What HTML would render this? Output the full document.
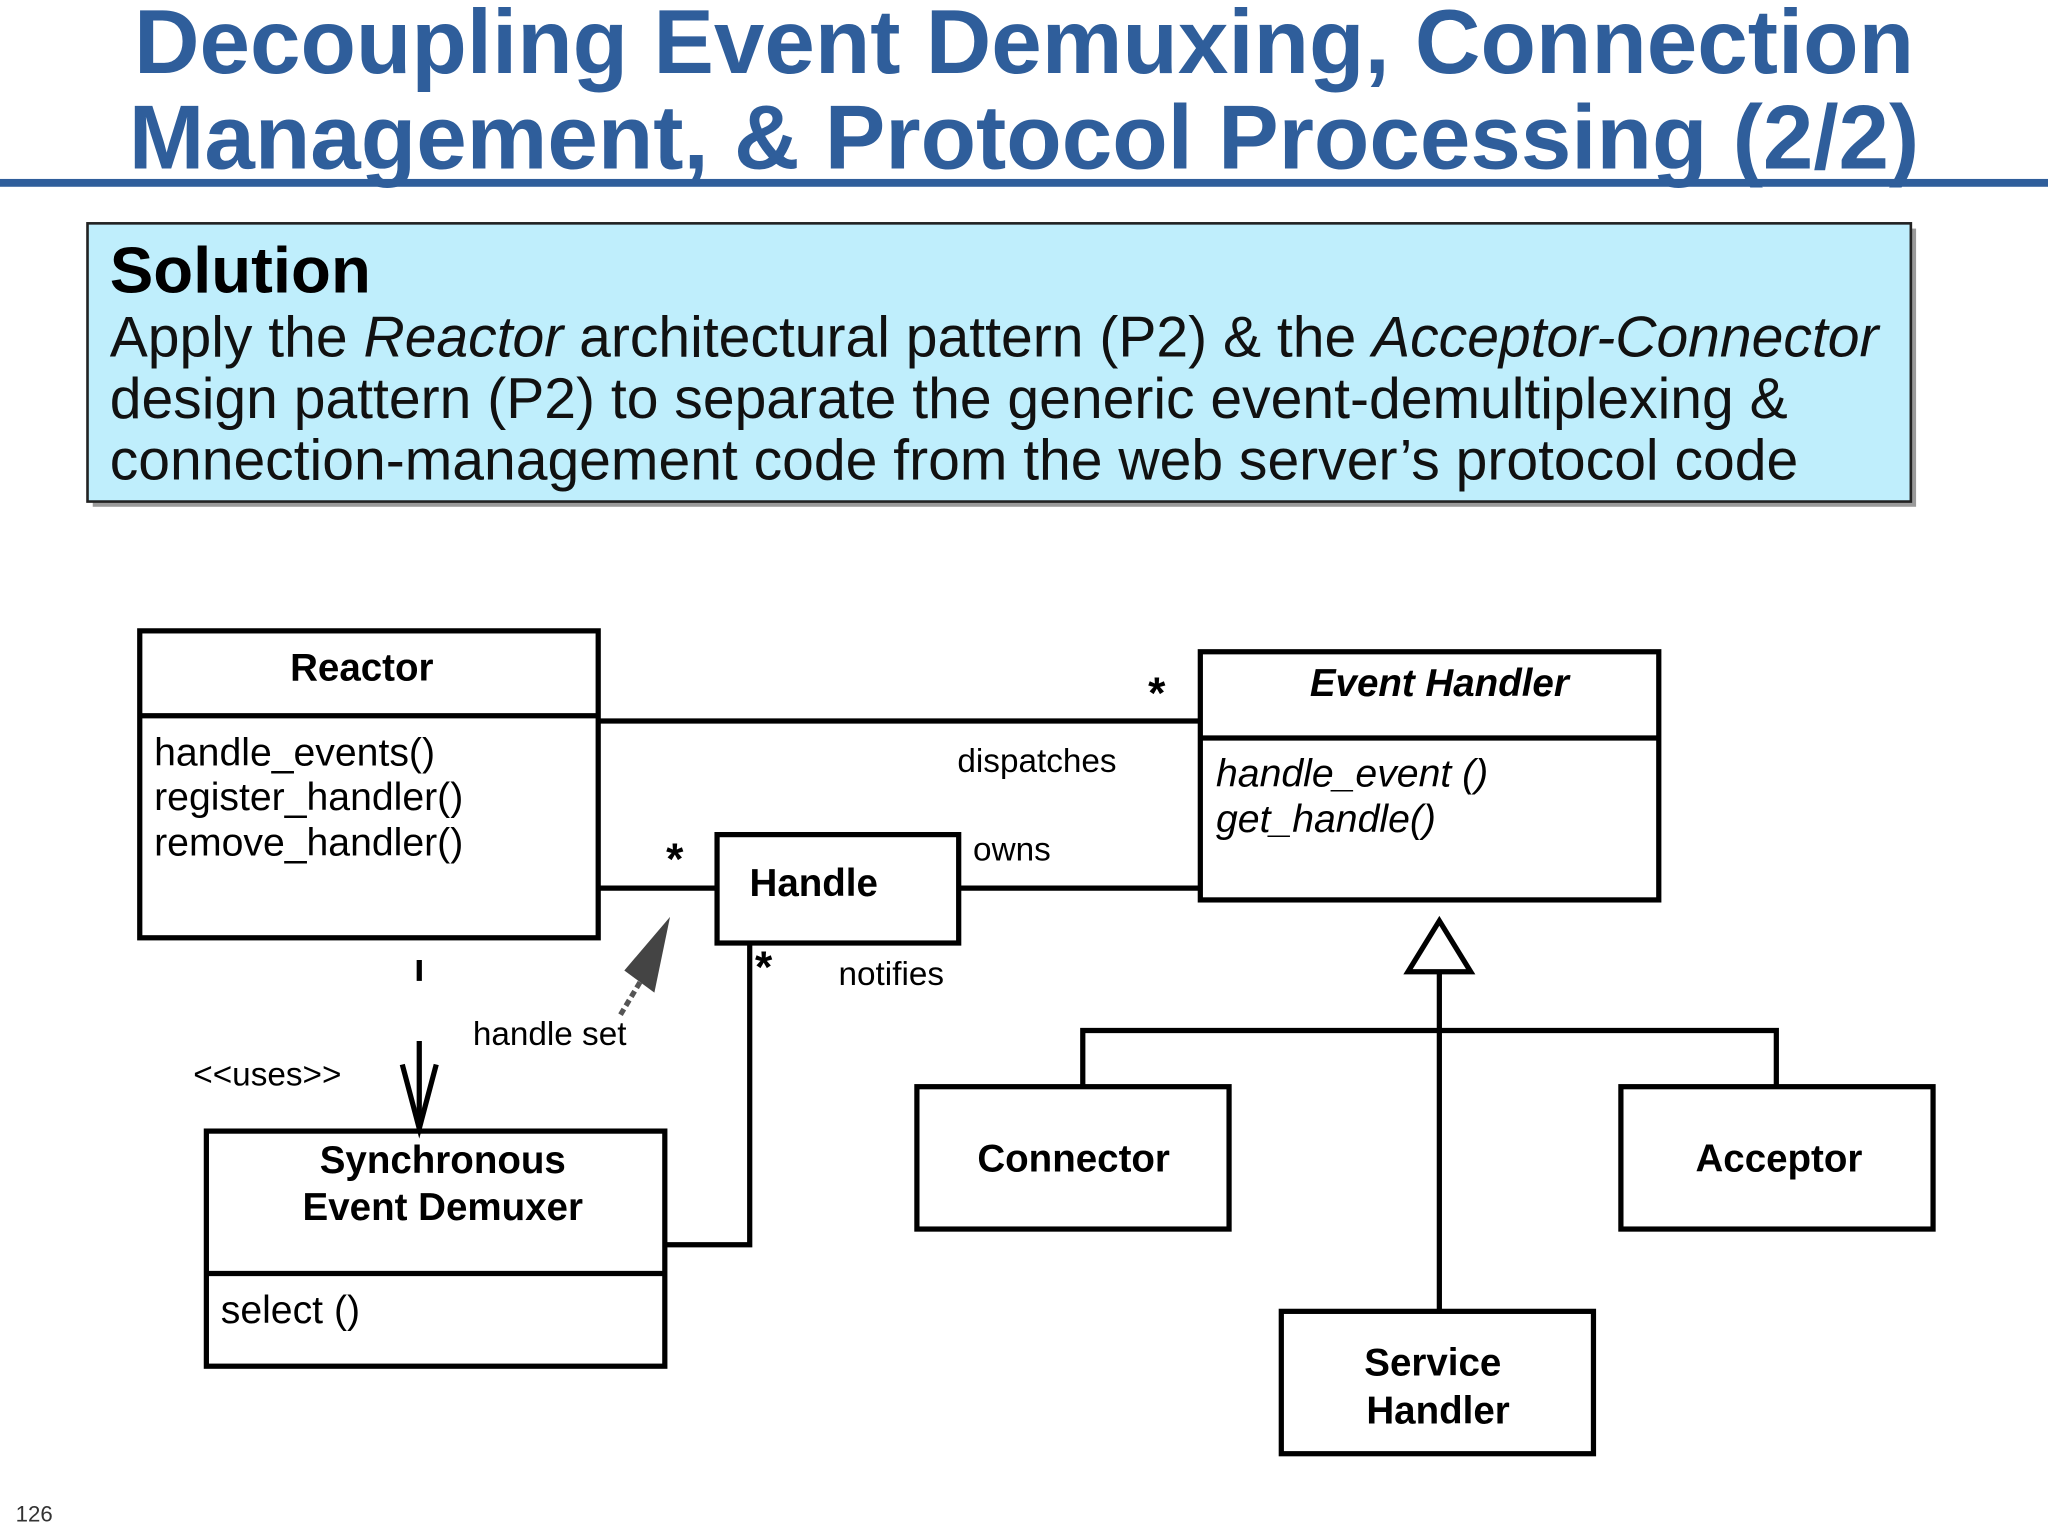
<!DOCTYPE html>
<html><head><meta charset="utf-8"><style>
html,body{margin:0;padding:0;background:#fff;}
svg{display:block;}
text{font-family:"Liberation Sans",Arial,sans-serif;}
</style></head><body>
<svg width="2048" height="1536" viewBox="0 0 1568 1176" xmlns="http://www.w3.org/2000/svg">
<rect width="1568" height="1176" fill="#fff"/>
<text x="784" y="56" text-anchor="middle" font-size="69.5" font-weight="bold" fill="#2f5e9b">Decoupling Event Demuxing, Connection</text>
<text x="784" y="129" text-anchor="middle" font-size="69.5" font-weight="bold" fill="#2f5e9b">Management, &amp; Protocol Processing (2/2)</text>
<rect x="0" y="137" width="1568" height="6" fill="#2f5e9b"/>
<rect x="71" y="175" width="1396" height="213" fill="#9a9a9a"/>
<rect x="67" y="171" width="1396" height="213" fill="#bfeefc" stroke="#222" stroke-width="2"/>
<text x="84" y="224" font-size="50" font-weight="bold" fill="#000">Solution</text>
<text x="84" y="273" font-size="43.7" fill="#111">Apply the <tspan font-style="italic">Reactor</tspan> architectural pattern (P2) &amp; the <tspan font-style="italic">Acceptor-Connector</tspan></text>
<text x="84" y="320" font-size="43.7" fill="#111">design pattern (P2) to separate the generic event-demultiplexing &amp;</text>
<text x="84" y="367" font-size="43.7" fill="#111">connection-management code from the web server’s protocol code</text>

<g fill="none" stroke="#000" stroke-width="4">
<rect x="107" y="483" width="351" height="235"/><line x1="107" y1="548" x2="458" y2="548"/>
<rect x="919" y="499" width="351" height="190"/><line x1="919" y1="565" x2="1270" y2="565"/>
<rect x="549" y="639" width="185" height="83"/>
<rect x="158" y="866" width="351" height="180"/><line x1="158" y1="975" x2="509" y2="975"/>
<rect x="702" y="832" width="239" height="109"/>
<rect x="1241" y="832" width="239" height="109"/>
<rect x="981" y="1004" width="239" height="109"/>
<line x1="458" y1="552" x2="919" y2="552"/>
<line x1="458" y1="680" x2="549" y2="680"/>
<line x1="734" y1="680" x2="919" y2="680"/>
<polyline points="574,722 574,953 509,953"/>
<line x1="321" y1="735" x2="321" y2="751"/>
<line x1="321" y1="797" x2="321" y2="864"/>
<polyline points="308,815 321,864 334,815"/>
<polygon points="1102,705 1078,744 1126,744"/>
<line x1="1102" y1="744" x2="1102" y2="1004"/>
<polyline points="829,832 829,789 1360,789 1360,832"/>
</g>
<polygon points="513,702 478,743 501,760" fill="#444"/>
<line x1="490" y1="752" x2="475" y2="777" stroke="#555" stroke-width="4" stroke-dasharray="5,3"/>

<g font-size="29.5" fill="#000" text-anchor="middle" font-weight="bold">
<text x="277" y="521">Reactor</text>
<text x="1102" y="533" font-style="italic">Event Handler</text>
<text x="623" y="686">Handle</text>
<text x="339" y="898">Synchronous</text>
<text x="339" y="934">Event Demuxer</text>
<text x="822" y="897">Connector</text>
<text x="1362" y="897">Acceptor</text>
<text x="1097" y="1053">Service</text>
<text x="1101" y="1090">Handler</text>
</g>
<g font-size="30" fill="#000">
<text x="118" y="586">handle_events()</text>
<text x="118" y="620">register_handler()</text>
<text x="118" y="655">remove_handler()</text>
<text x="931" y="602" font-style="italic">handle_event ()</text>
<text x="931" y="637" font-style="italic">get_handle()</text>
<text x="169" y="1013">select ()</text>
</g>
<g font-size="25.5" fill="#000">
<text x="733" y="591">dispatches</text>
<text x="745" y="659">owns</text>
<text x="642" y="754">notifies</text>
<text x="362" y="800">handle set</text>
<text x="148" y="831">&lt;&lt;uses&gt;&gt;</text>
<text x="879" y="542" font-size="34" font-weight="bold">*</text>
<text x="510" y="669" font-size="34" font-weight="bold">*</text>
<text x="578" y="752" font-size="34" font-weight="bold">*</text>
</g>
<text x="12" y="1165" font-size="17" fill="#333">126</text>
</svg>
</body></html>
